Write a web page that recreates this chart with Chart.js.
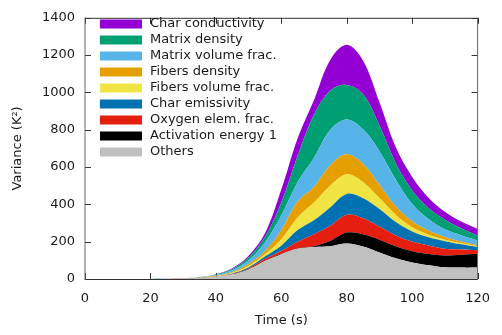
<!DOCTYPE html>
<html lang="en">
  <head>
    <meta charset="UTF-8" />
    <title>Variance decomposition</title>
    <script src="https://cdn.jsdelivr.net/npm/chart.js@4"></script>
    <style>
      html, body { margin: 0; padding: 0; background: #fff; }
    </style>
  </head>
  <body>
    <canvas id="varChart" width="502" height="335"></canvas>
    <script>
      // time axis (s) and the contribution of each parameter (K^2), bottom layer first
      const times = [0, 5, 10, 15, 20, 25, 30, 35, 40, 45, 50, 55, 60, 65, 70, 75, 80, 85, 90, 95, 100, 105, 110, 115, 120];
      const others = [0, 0, 0, 0, 0, 0.5, 2, 5, 12, 24, 50, 96, 133, 162, 172, 176, 190, 174, 142, 111, 89, 74, 63, 61, 61];
      const activation = [0, 0, 0, 0, 0, 0, 0, 0.2, 0.3, 0.6, 1, 2, 2, 2, 4, 29, 59, 66, 69, 64, 60, 60, 63, 69, 75];
      const oxygen = [0, 0, 0, 0, 0, 0.1, 0.3, 0.6, 0.7, 2.4, 4, 10, 15, 36, 64, 80, 95, 86, 70, 58, 51, 46, 36, 28, 18];
      const charEmissivity = [0, 0, 0, 0, 0, 0.1, 0.3, 0.7, 1, 3, 7, 12, 28, 62, 75, 100, 112, 107, 94, 72, 55, 44, 41, 28, 17];
      const fibersVolume = [0, 0, 0, 0, 0, 0.1, 0.3, 0.7, 1, 4, 8, 12, 34, 68, 95, 115, 105, 86, 59, 38, 22, 13, 8, 6, 4];
      const fibersDensity = [0, 0, 0, 0, 0, 0.1, 0.3, 0.8, 2, 4, 10, 18, 51, 85, 85, 110, 107, 98, 71, 45, 33, 23, 14, 9, 6];
      const matrixVolume = [0, 0, 0, 0, 0, 0.2, 0.6, 1.5, 4, 9, 20, 45, 77, 105, 155, 190, 187, 185, 180, 144, 92, 62, 41, 33, 25];
      const matrixDensity = [0, 0, 0, 0, 0, 0.1, 0.4, 1, 3, 7, 15, 30, 70, 140, 230, 210, 185, 188, 138, 88, 73, 58, 52, 38, 27];
      const charConductivity = [0, 0, 0, 0, 0, 0.1, 0.3, 0.5, 2, 4, 10, 20, 70, 95, 80, 165, 215, 180, 124, 86, 72, 56, 42, 36, 35];

      const xTicks = [0, 20, 40, 60, 80, 100, 120];
      const yTicks = [0, 200, 400, 600, 800, 1000, 1200, 1400];

      const layers = [
        { label: "Others", data: others, color: "#c0c0c0" },
        { label: "Activation energy 1", data: activation, color: "#000000" },
        { label: "Oxygen elem. frac.", data: oxygen, color: "#e51e10" },
        { label: "Char emissivity", data: charEmissivity, color: "#0072b2" },
        { label: "Fibers volume frac.", data: fibersVolume, color: "#f0e442" },
        { label: "Fibers density", data: fibersDensity, color: "#e69f00" },
        { label: "Matrix volume frac.", data: matrixVolume, color: "#56b4e9" },
        { label: "Matrix density", data: matrixDensity, color: "#009e73" },
        { label: "Char conductivity", data: charConductivity, color: "#9400d3" },
      ];

      const FONT = "'DejaVu Sans', sans-serif";

      // inward ticks on all four sides (drawn under the areas) and the box around the plot
      const frame = {
        id: "frame",
        beforeDatasetsDraw(chart) {
          const { ctx, chartArea: a, scales } = chart;
          ctx.save();
          ctx.strokeStyle = "#333";
          ctx.lineWidth = 1;
          ctx.beginPath();
          xTicks.forEach((v) => {
            const px = Math.round(scales.x.getPixelForValue(v)) + 0.5;
            ctx.moveTo(px, a.bottom); ctx.lineTo(px, a.bottom - 6);
            ctx.moveTo(px, a.top); ctx.lineTo(px, a.top + 6);
          });
          yTicks.forEach((v) => {
            const py = Math.round(scales.y.getPixelForValue(v)) + 0.5;
            ctx.moveTo(a.left, py); ctx.lineTo(a.left + 6, py);
            ctx.moveTo(a.right, py); ctx.lineTo(a.right - 6, py);
          });
          ctx.stroke();
          ctx.restore();
        },
        afterDatasetsDraw(chart) {
          const { ctx, chartArea: a } = chart;
          ctx.save();
          ctx.lineWidth = 1;
          ctx.strokeStyle = "#333";
          ctx.beginPath();
          ctx.moveTo(a.left, a.top + 0.5); ctx.lineTo(a.right, a.top + 0.5);
          ctx.moveTo(a.left, a.bottom + 0.5); ctx.lineTo(a.right, a.bottom + 0.5);
          ctx.stroke();
          ctx.strokeStyle = "#666";
          ctx.beginPath();
          ctx.moveTo(a.left, a.top); ctx.lineTo(a.left, a.bottom + 1);
          ctx.moveTo(a.right, a.top); ctx.lineTo(a.right, a.bottom + 1);
          ctx.stroke();
          ctx.restore();
        },
      };

      // key inside the plot, top-left, top layer listed first
      const insideLegend = {
        id: "insideLegend",
        afterDraw(chart) {
          const ctx = chart.ctx;
          const sets = chart.data.datasets.slice().reverse();
          ctx.save();
          ctx.font = "13px " + FONT;
          ctx.textBaseline = "middle";
          sets.forEach((ds, i) => {
            const y = 24 + i * 16;
            ctx.fillStyle = ds.backgroundColor;
            ctx.fillRect(100, y - 4.5, 42, 9);
            ctx.fillStyle = "#1a1a1a";
            ctx.fillText(ds.label, 150, y);
          });
          ctx.restore();
        },
      };

      new Chart(document.getElementById("varChart"), {
        type: "line",
        data: {
          labels: times,
          datasets: layers.map((l, i) => ({
            label: l.label,
            data: l.data,
            backgroundColor: l.color,
            borderColor: l.color,
            borderWidth: 0,
            pointRadius: 0,
            tension: 0.35,
            fill: i === 0 ? "origin" : "-1",
          })),
        },
        options: {
          responsive: false,
          animation: false,
          devicePixelRatio: 1,
          layout: { padding: { top: 9, right: 14, left: 0, bottom: 0 } },
          plugins: {
            legend: { display: false },
            tooltip: { enabled: false },
          },
          scales: {
            x: {
              type: "linear",
              min: 0,
              max: 120,
              grid: { display: false, drawTicks: false },
              border: { display: false },
              ticks: { stepSize: 20, padding: 12, color: "#1a1a1a", font: { family: FONT, size: 13 }, callback: (v) => String(v) },
              title: { display: true, text: "Time (s)", color: "#1a1a1a", font: { family: FONT, size: 13 }, padding: { top: 0, bottom: 7 } },
              afterFit: (s) => { s.height = 56; },
            },
            y: {
              stacked: true,
              min: 0,
              max: 1400,
              grid: { display: false, drawTicks: false },
              border: { display: false },
              ticks: { stepSize: 200, padding: 10, color: "#1a1a1a", font: { family: FONT, size: 13 }, callback: (v) => String(v) },
              title: { display: true, text: "Variance (K²)", color: "#1a1a1a", font: { family: FONT, size: 13 }, padding: { top: 10, bottom: 0 } },
              afterFit: (s) => { s.width = 85; },
            },
          },
        },
        plugins: [frame, insideLegend],
      });
    </script>
  </body>
</html>
